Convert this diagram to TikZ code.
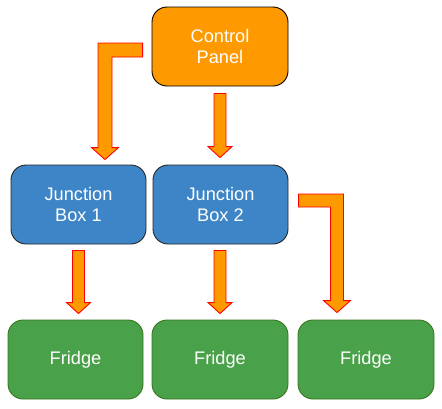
\documentclass[tikz,border=0pt]{standalone}
\usepackage{fontspec}
\setmainfont{Liberation Sans}
\usetikzlibrary{calc}
\definecolor{cporange}{HTML}{FF9900}
\definecolor{jbblue}{HTML}{3D85C6}
\definecolor{frgreen}{HTML}{49A149}
\definecolor{frborder}{HTML}{38761D}
\definecolor{arrred}{HTML}{FF0000}
\begin{document}
\begin{tikzpicture}[x=1pt,y=-1pt,
  box/.style={rounded corners=15pt,minimum width=135pt,minimum height=79pt,
    inner sep=0pt,align=center,text=white,font=\fontsize{18.2}{21.7}\selectfont,line width=0.9pt},
  cpbox/.style={box,fill=cporange,draw=black},
  jbbox/.style={box,fill=jbblue,draw=black!85},
  frbox/.style={box,fill=frgreen,draw=frborder},
  blockarrow/.style={fill=cporange,draw=arrred,line width=0.9pt,line join=miter}]
\useasboundingbox (0,0) rectangle (442,408);
\node[cpbox,minimum width=136pt] (cp) at (220,46.5) {Control\\Panel};
\node[jbbox] (jb1) at (78.5,204.5) {Junction\\Box 1};
\node[jbbox] (jb2) at (220.5,204.5) {Junction\\Box 2};
\node[frbox] (fr1) at (75.5,359.5) {Fridge};
\node[frbox,minimum width=136pt] (fr2) at (220,359.5) {Fridge};
\node[frbox,minimum width=136pt] (fr3) at (366,359.5) {Fridge};
% straight arrows
\coordinate (a1s) at ($(cp.south)+(0,7)$);
\coordinate (a1t) at ($(jb2.north)+(-0.5,-7)$);
\coordinate (a2s) at ($(jb1.south)+(0,6)$);
\coordinate (a2t) at ($(fr1.north)+(3,-6)$);
\coordinate (a3s) at ($(jb2.south)+(-0.5,6)$);
\coordinate (a3t) at ($(fr2.north)+(0,-6)$);
\foreach \s/\t in {a1s/a1t,a2s/a2t,a3s/a3t}{
  \path[blockarrow] let \p1=(\s), \p2=(\t) in
    (\x1-6pt,\y1) -- (\x1+6pt,\y1) -- (\x1+6pt,\y2+11pt) -- (\x1+12pt,\y2+11pt)
    -- (\x1,\y2) -- (\x1-12pt,\y2+11pt) -- (\x1-6pt,\y2+11pt) -- cycle;
}
% elbow arrow: control panel -> junction box 1
\coordinate (e1s) at ($(cp.west)+(-9,3.5)$);
\coordinate (e1t) at ($(jb1.north)+(26.5,-5)$);
\path[blockarrow] let \p1=(e1s), \p2=(e1t) in
  (\x1,\y1+7pt) -- (\x2-7pt,\y1+7pt) -- (\x2-7pt,\y2+12pt) -- (\x2-13.5pt,\y2+12pt)
  -- (\x2,\y2) -- (\x2+13.5pt,\y2+12pt) -- (\x2+7pt,\y2+12pt) -- (\x2+7pt,\y1-7pt)
  -- (\x1,\y1-7pt) -- cycle;
% elbow arrow: junction box 2 -> fridge 3
\coordinate (e2s) at ($(jb2.east)+(10,-4)$);
\coordinate (e2t) at ($(fr3.north)+(-29,-7)$);
\path[blockarrow] let \p1=(e2s), \p2=(e2t) in
  (\x1,\y1+6.5pt) -- (\x2+6.5pt,\y1+6.5pt) -- (\x2+6.5pt,\y2+12pt) -- (\x2+13.5pt,\y2+12pt)
  -- (\x2,\y2) -- (\x2-13.5pt,\y2+12pt) -- (\x2-6.5pt,\y2+12pt) -- (\x2-6.5pt,\y1-6.5pt)
  -- (\x1,\y1-6.5pt) -- cycle;
\end{tikzpicture}
\end{document}
